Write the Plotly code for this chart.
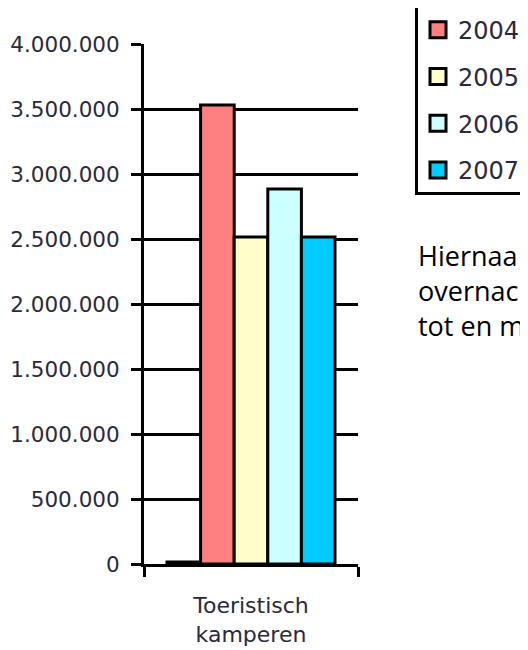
import plotly.graph_objects as go

categories = ["Toeristisch<br>kamperen"]
series_names = ["2003", "2004", "2005", "2006", "2007"]
series_values = [[15000], [3530000], [2515000], [2885000], [2515000]]
series_colors = ["#9999FF", "#FF8080", "#FFFFCC", "#CCFFFF", "#00CCFF"]
legend_names = [" ", "2004", "2005", "2006", "2007"]
y_ticks = [0, 500000, 1000000, 1500000, 2000000, 2500000, 3000000, 3500000, 4000000]
y_tick_labels = ["0", "500.000", "1.000.000", "1.500.000", "2.000.000",
                 "2.500.000", "3.000.000", "3.500.000", "4.000.000"]
side_text = ["Hiernaa", "overnac", "tot en m"]

# page body adds an 8px offset; layout is expressed in figure pixels
OFF = 8
L, T = 144 - OFF, 44 - OFF
PW, PH = 214, 520
W, H = 528, 650

def px(xp):
    return (xp - OFF - L) / PW

def py(yp):
    return (T + PH - (yp - OFF)) / PH

fig = go.Figure()
for name, vals, col in zip(series_names, series_values, series_colors):
    fig.add_trace(go.Bar(
        x=categories, y=vals, name=name,
        marker=dict(color=col, line=dict(color="black", width=3)),
        showlegend=False,
    ))

# legend entries (the first one lies above the top edge of the page, as in the reference)
for i, (name, col) in enumerate(zip(legend_names, series_colors)):
    fig.add_trace(go.Scatter(
        x=[None], y=[None], mode="markers", name=name, legendgroup="g%d" % i,
        marker=dict(symbol="square", size=16, color=col,
                    line=dict(color="black", width=3)),
    ))

fig.update_layout(
    width=W, height=H,
    margin=dict(l=L, r=W - L - PW, t=T, b=H - T - PH, autoexpand=False),
    paper_bgcolor="white", plot_bgcolor="white",
    barmode="group", bargap=0.215, bargroupgap=0,
    showlegend=True,
    legend=dict(
        x=px(415), xanchor="left", y=py(195), yanchor="bottom",
        bordercolor="black", borderwidth=3, bgcolor="white",
        font=dict(family="DejaVu Sans", size=24, color="#2a2a3a"),
        tracegroupgap=12.5, itemsizing="trace",
    ),
    font=dict(family="DejaVu Sans"),
)

fig.update_yaxes(
    range=[0, 4000000], tickvals=y_ticks, ticktext=y_tick_labels,
    showgrid=True, gridcolor="black", gridwidth=3,
    showline=True, linecolor="black", linewidth=3,
    ticks="outside", ticklen=10, tickwidth=3, tickcolor="black",
    tickfont=dict(family="DejaVu Sans", size=21.5, color="#2a2a3a"),
    ticklabelstandoff=7, zeroline=False,
)
fig.update_xaxes(
    showline=True, linecolor="black", linewidth=3,
    ticks="outside", tickson="boundaries", ticklen=10, tickwidth=3, tickcolor="black",
    tickfont=dict(family="DejaVu Sans", size=22, color="#2a2a3a"),
    ticklabelstandoff=20,
)

fig.add_annotation(
    text="<br>".join(side_text), xref="paper", yref="paper",
    x=px(416), y=py(290), xanchor="left", yanchor="middle",
    align="left", showarrow=False,
    font=dict(family="Open Sans", size=27, color="black"),
)

fig.write_html("out.html")
